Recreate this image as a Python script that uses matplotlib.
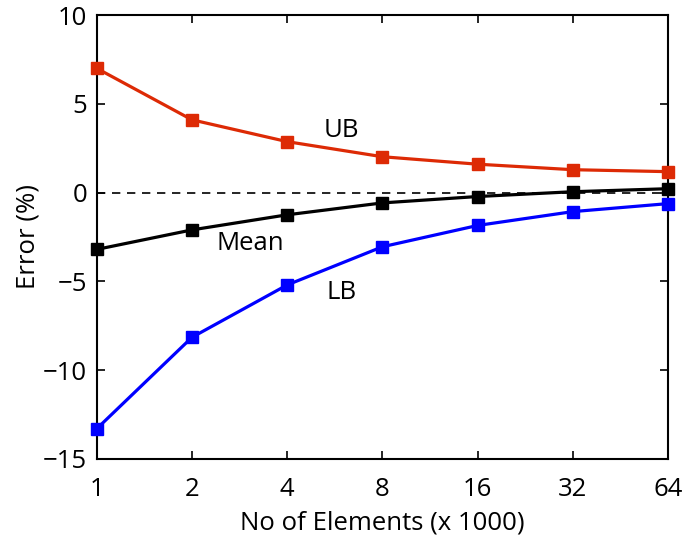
import numpy as np
import matplotlib.pyplot as plt

plt.rcParams['font.family'] = ['Open Sans', 'DejaVu Sans']

# data
elements = [1, 2, 4, 8, 16, 32, 64]
ub = [7.0, 4.1, 2.87, 2.02, 1.6, 1.29, 1.18]
mean = [-3.2, -2.1, -1.25, -0.58, -0.22, 0.05, 0.22]
lb = [-13.3, -8.15, -5.2, -3.05, -1.85, -1.07, -0.62]

fig = plt.figure(figsize=(6.96, 5.38), dpi=100)
ax = fig.add_axes([0.139, 0.147, 0.821, 0.825])

ax.axhline(0, color='black', lw=1.2, ls=(0, (5, 4)), zorder=1)
ax.plot(elements, ub, color='#dd2a05', lw=2.3, marker='s', ms=8.5, zorder=3, clip_on=False)
ax.plot(elements, mean, color='black', lw=2.3, marker='s', ms=8.5, zorder=3, clip_on=False)
ax.plot(elements, lb, color='#0000ff', lw=2.3, marker='s', ms=8.5, zorder=3, clip_on=False)

ax.set_xscale('log', base=2)
ax.set_xlim(1, 64)
ax.set_ylim(-15, 10)
ax.set_xticks(elements)
ax.set_xticklabels([str(e) for e in elements])
ax.minorticks_off()
ax.set_yticks([-15, -10, -5, 0, 5, 10])
ax.set_yticklabels(['\u221215', '\u221210', '\u22125', '0', '5', '10'])
ax.tick_params(direction='in', top=True, right=True, labelsize=18.5, length=6, width=1.2, pad=7)
ax.tick_params(axis='x', pad=13)
for s in ax.spines.values():
    s.set_linewidth(1.5)

ax.set_xlabel('No of Elements (x 1000)', fontsize=18.5, labelpad=6)
ax.set_ylabel('Error (%)', fontsize=18.5, labelpad=2)

ax.text(5.95, 3.5, 'UB', fontsize=18.5, ha='center', va='center')
ax.text(3.05, -2.85, 'Mean', fontsize=18.5, ha='center', va='center')
ax.text(5.95, -5.6, 'LB', fontsize=18.5, ha='center', va='center')

fig.savefig('out.png', dpi=100)
